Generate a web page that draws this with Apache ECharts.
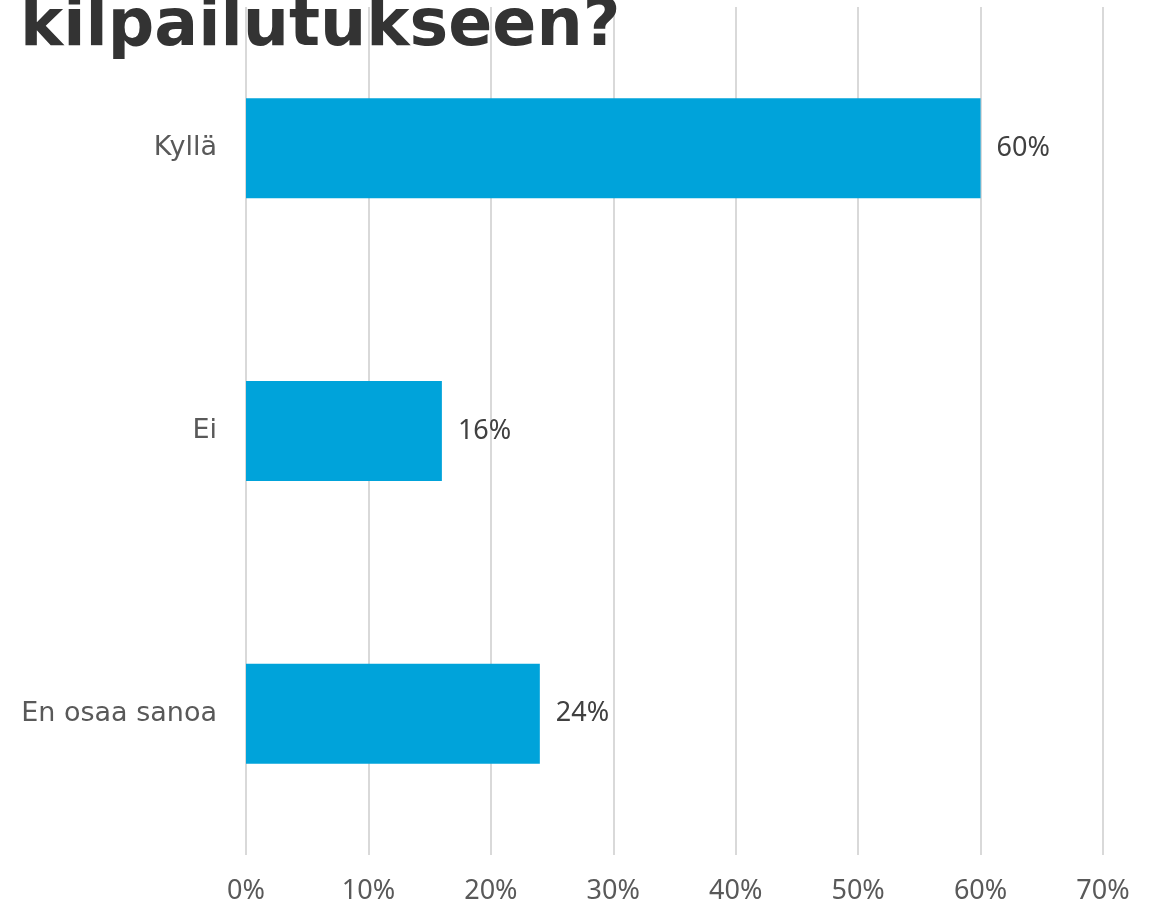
<!DOCTYPE html>
<html>
<head>
<meta charset="utf-8">
<script src="https://cdn.jsdelivr.net/npm/echarts@6/dist/echarts.min.js"></script>
<style>
html, body { margin: 0; padding: 0; background: #fff; }
#chart { width: 1152px; height: 910px; }
</style>
</head>
<body>
<div id="chart"></div>
<script>
// data
const categories = ['Kyllä', 'Ei', 'En osaa sanoa'];
const values = [60, 16, 24];
const titleText = 'kilpailutukseen?';

const chart = echarts.init(document.getElementById('chart'));

chart.setOption({
    animation: false,
    backgroundColor: '#ffffff',
    graphic: [{
        type: 'text',
        left: 20,
        top: -4,
        z: 10,
        style: {
            text: titleText,
            font: 'bold 65px "DejaVu Sans", sans-serif',
            fill: '#333333'
        }
    }],
    grid: {
        left: 246,
        right: 49,
        top: 7,
        bottom: 55
    },
    xAxis: {
        type: 'value',
        min: 0,
        max: 70,
        interval: 10,
        axisLine: { show: false },
        axisTick: { show: false },
        splitLine: { lineStyle: { color: '#d9d9d9', width: 2 } },
        axisLabel: {
            formatter: '{value}%',
            color: '#595959',
            fontSize: 27,
            fontFamily: '"Noto Sans", sans-serif',
            margin: 23
        }
    },
    yAxis: {
        type: 'category',
        data: categories,
        inverse: true,
        axisLine: { show: false },
        axisTick: { show: false },
        axisLabel: {
            color: '#595959',
            fontSize: 27,
            fontFamily: '"DejaVu Sans", sans-serif',
            margin: 29
        }
    },
    series: [{
        type: 'bar',
        data: values,
        barWidth: 100,
        itemStyle: { color: '#00a3da' },
        label: {
            show: true,
            position: 'right',
            distance: 16,
            formatter: '{c}%',
            color: '#404040',
            fontSize: 27,
            fontFamily: '"Noto Sans", sans-serif'
        }
    }]
});
</script>
</body>
</html>
